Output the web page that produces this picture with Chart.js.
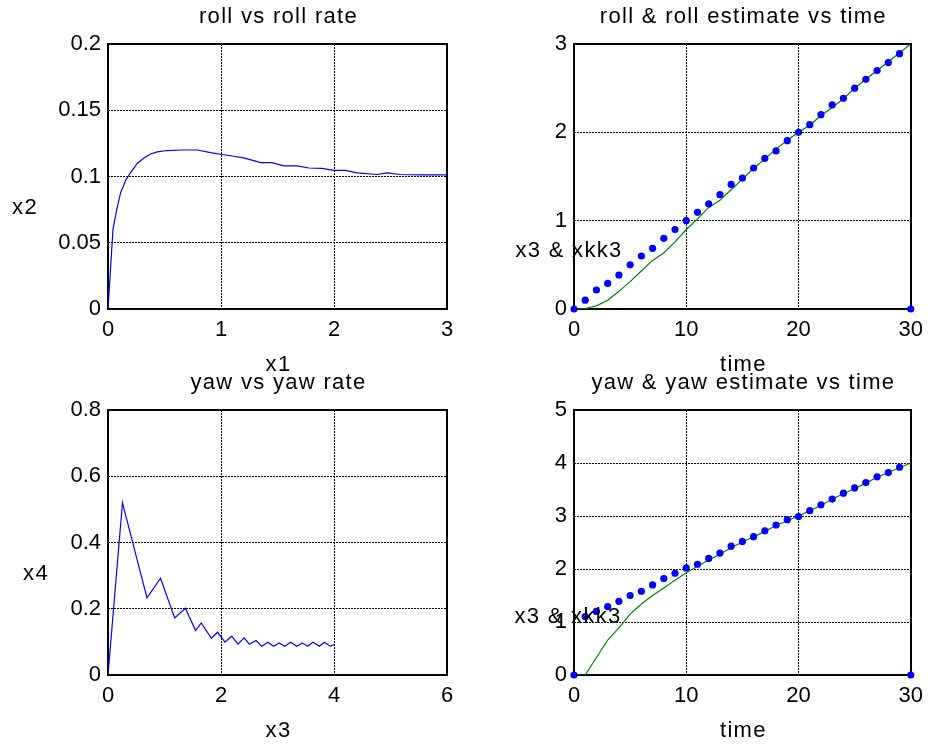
<!DOCTYPE html>
<html>
<head>
<meta charset="utf-8">
<script src="https://cdn.jsdelivr.net/npm/chart.js@4.4.0/dist/chart.umd.min.js"></script>
<style>
  html, body { margin: 0; padding: 0; background: #fff; }
  #wrap { position: relative; width: 931px; height: 749px; overflow: hidden; }
  #wrap canvas { position: absolute; left: 0; top: 0; }
</style>
</head>
<body>
<div id="wrap">
  <canvas id="rollPhase" width="931" height="749"></canvas>
  <canvas id="rollTime" width="931" height="749"></canvas>
  <canvas id="yawPhase" width="931" height="749"></canvas>
  <canvas id="yawTime" width="931" height="749"></canvas>
</div>
<script>
// ---- roll vs roll rate ----
const x1 = [0, 0.044, 0.077, 0.112, 0.156, 0.2, 0.26, 0.318, 0.377, 0.436, 0.525, 0.642, 0.79, 0.908,
  1.01, 1.114, 1.2, 1.29, 1.35, 1.453, 1.556, 1.674, 1.777, 1.895, 1.998, 2.101, 2.205, 2.381, 2.47,
  2.588, 2.765, 3.0];
const x2 = [0, 0.060, 0.075, 0.088, 0.097, 0.103, 0.110, 0.114, 0.117, 0.1186, 0.1196, 0.120, 0.120,
  0.118, 0.1166, 0.1153, 0.114, 0.112, 0.1105, 0.1105, 0.108, 0.108, 0.1064, 0.1061, 0.1046, 0.1046,
  0.1028, 0.1015, 0.1028, 0.1015, 0.1013, 0.1013];

// ---- yaw vs yaw rate ----
const x3 = [0, 0.256, 0.69, 0.93, 1.18, 1.37, 1.55, 1.65, 1.83, 1.94, 2.07, 2.19, 2.30, 2.41, 2.50,
  2.62, 2.72, 2.83, 2.93, 3.03, 3.13, 3.23, 3.34, 3.44, 3.53, 3.63, 3.74, 3.83, 3.93, 4.02];
const x4 = [0, 0.52, 0.233, 0.292, 0.172, 0.2015, 0.134, 0.157, 0.111, 0.129, 0.099, 0.117, 0.093,
  0.112, 0.093, 0.104, 0.087, 0.099, 0.087, 0.097, 0.087, 0.099, 0.087, 0.097, 0.087, 0.099, 0.087,
  0.099, 0.087, 0.093];

// ---- time histories ----
const time = [0, 1, 2, 3, 4, 5, 6, 7, 8, 9, 10, 11, 12, 13, 14, 15, 16, 17, 18, 19, 20, 21, 22, 23,
  24, 25, 26, 27, 28, 29, 30];
const roll = [0, 0.005, 0.035, 0.10, 0.20, 0.31, 0.43, 0.55, 0.635, 0.76, 0.90, 1.02, 1.15, 1.23,
  1.35, 1.47, 1.59, 1.70, 1.81, 1.91, 2.00, 2.08, 2.19, 2.28, 2.38, 2.50, 2.60, 2.70, 2.80, 2.90, 3.00];
const rollEst = [0, 0.10, 0.215, 0.29, 0.385, 0.50, 0.60, 0.687, 0.80, 0.90, 1.00, 1.094, 1.19,
  1.294, 1.41, 1.483, 1.596, 1.706, 1.79, 1.906, 2.00, 2.087, 2.20, 2.31, 2.385, 2.50, 2.60, 2.70,
  2.79, 2.89, 0];
const yaw = [0, 0, 0.33, 0.66, 0.89, 1.15, 1.34, 1.50, 1.64, 1.79, 1.93, 2.05, 2.17, 2.28, 2.40,
  2.51, 2.61, 2.71, 2.82, 2.91, 3.00, 3.10, 3.20, 3.32, 3.42, 3.52, 3.62, 3.73, 3.82, 3.91, 4.00];
const yawEst = [0, 1.10, 1.20, 1.29, 1.39, 1.50, 1.58, 1.70, 1.82, 1.92, 2.02, 2.09, 2.20, 2.30,
  2.43, 2.52, 2.61, 2.72, 2.83, 2.93, 2.99, 3.10, 3.21, 3.32, 3.43, 3.53, 3.63, 3.74, 3.82, 3.92, 0];

// ---- tick values and labels ----
const rollPhaseXTicks = [0, 1, 2, 3];
const rollPhaseXLabels = ['0', '1', '2', '3'];
const rollPhaseYTicks = [0, 0.05, 0.1, 0.15, 0.2];
const rollPhaseYLabels = ['0', '0.05', '0.1', '0.15', '0.2'];
const yawPhaseXTicks = [0, 2, 4, 6];
const yawPhaseXLabels = ['0', '2', '4', '6'];
const yawPhaseYTicks = [0, 0.2, 0.4, 0.6, 0.8];
const yawPhaseYLabels = ['0', '0.2', '0.4', '0.6', '0.8'];
const timeTicks = [0, 10, 20, 30];
const timeLabels = ['0', '10', '20', '30'];
const rollTimeYTicks = [0, 1, 2, 3];
const rollTimeYLabels = ['0', '1', '2', '3'];
const yawTimeYTicks = [0, 1, 2, 3, 4, 5];
const yawTimeYLabels = ['0', '1', '2', '3', '4', '5'];

// ---- drawing setup ----
const FONT_FAMILY = "'Liberation Sans', Arial, Helvetica, sans-serif";
const TICK_SIZE = 22;
const LABEL_SIZE = 22;
const LABEL_SPACING = '1.3px';
const Y_AXIS_W = 60;
const X_AXIS_H = 40;
const PAGE_W = 931, PAGE_H = 749;
const BLUE = '#0000ff';
const GREEN = '#008000';

const pts = (xs, ys) => xs.map((x, i) => ({ x, y: ys[i] }));

function linearAxis(min, max, values, labels, horizontal) {
  return {
    type: 'linear',
    min, max,
    afterBuildTicks: (axis) => { axis.ticks = values.map(v => ({ value: v })); },
    afterFit: (axis) => {
      if (horizontal) axis.height = X_AXIS_H; else axis.width = Y_AXIS_W;
    },
    ticks: {
      callback: (v, i) => labels[i],
      font: { family: FONT_FAMILY, size: TICK_SIZE },
      color: '#000',
      padding: horizontal ? 8 : 7,
      autoSkip: false,
      maxRotation: 0
    },
    grid: { color: '#000', lineWidth: 1, drawTicks: false },
    border: { display: false, dash: [2, 1] }
  };
}

// solid box around each axes, drawn under the data
const axesBox = {
  id: 'axesBox',
  beforeDatasetsDraw(chart) {
    const { ctx, chartArea: a } = chart;
    ctx.save();
    ctx.strokeStyle = '#000';
    ctx.lineWidth = 2;
    ctx.setLineDash([]);
    ctx.strokeRect(Math.round(a.left), Math.round(a.top),
      Math.round(a.right) - Math.round(a.left), Math.round(a.bottom) - Math.round(a.top));
    ctx.restore();
  }
};

// title, x label and horizontal y label of each axes
const axesText = {
  id: 'axesText',
  afterDraw(chart, args, opts) {
    const { ctx, chartArea: a } = chart;
    ctx.save();
    ctx.fillStyle = '#000';
    ctx.font = LABEL_SIZE + 'px ' + FONT_FAMILY;
    ctx.letterSpacing = LABEL_SPACING;
    ctx.textAlign = 'center';
    ctx.textBaseline = 'alphabetic';
    const cx = (a.left + a.right) / 2 + 1;
    ctx.fillText(opts.title, cx, a.top - 21);
    ctx.fillText(opts.xLabel, cx, a.bottom + 62);
    ctx.fillText(opts.yLabel, a.left - opts.yLabelInset, a.top + opts.yLabelDrop);
    ctx.restore();
  }
};

function makeChart(id, box, datasets, scales, text) {
  return new Chart(document.getElementById(id), {
    type: 'scatter',
    data: { datasets },
    options: {
      responsive: false,
      animation: false,
      devicePixelRatio: 1,
      events: [],
      layout: {
        padding: {
          left: box.left - Y_AXIS_W,
          top: box.top,
          right: PAGE_W - box.right,
          bottom: PAGE_H - box.bottom - X_AXIS_H
        }
      },
      scales,
      plugins: {
        legend: { display: false },
        tooltip: { enabled: false },
        title: { display: false },
        axesText: text
      }
    },
    plugins: [axesBox, axesText]
  });
}

const lineSet = (data, color) => ({
  data, showLine: true, borderColor: color, borderWidth: 1.2,
  pointRadius: 0, tension: 0, fill: false
});
const dotSet = (data, color) => ({
  data, showLine: false, pointRadius: 3.6, pointBackgroundColor: color,
  pointBorderWidth: 0, clip: 8
});

const leftCol = { left: 108, right: 447 };
const rightCol = { left: 574, right: 914 };

makeChart('rollPhase', { ...leftCol, top: 44, bottom: 309 },
  [lineSet(pts(x1, x2), BLUE)],
  {
    x: linearAxis(0, 3, rollPhaseXTicks, rollPhaseXLabels, true),
    y: linearAxis(0, 0.2, rollPhaseYTicks, rollPhaseYLabels, false)
  },
  { title: 'roll vs roll rate', xLabel: 'x1', yLabel: 'x2', yLabelInset: 83, yLabelDrop: 170 });

makeChart('rollTime', { ...rightCol, top: 44, bottom: 309 },
  [dotSet(pts(time, rollEst), BLUE), lineSet(pts(time, roll), GREEN)],
  {
    x: linearAxis(0, 30, timeTicks, timeLabels, true),
    y: linearAxis(0, 3, rollTimeYTicks, rollTimeYLabels, false)
  },
  { title: 'roll & roll estimate vs time', xLabel: 'time', yLabel: 'x3 & xkk3', yLabelInset: 5, yLabelDrop: 213 });

makeChart('yawPhase', { ...leftCol, top: 410, bottom: 675 },
  [lineSet(pts(x3, x4), BLUE)],
  {
    x: linearAxis(0, 6, yawPhaseXTicks, yawPhaseXLabels, true),
    y: linearAxis(0, 0.8, yawPhaseYTicks, yawPhaseYLabels, false)
  },
  { title: 'yaw vs yaw rate', xLabel: 'x3', yLabel: 'x4', yLabelInset: 72, yLabelDrop: 170 });

makeChart('yawTime', { ...rightCol, top: 410, bottom: 675 },
  [dotSet(pts(time, yawEst), BLUE), lineSet(pts(time, yaw), GREEN)],
  {
    x: linearAxis(0, 30, timeTicks, timeLabels, true),
    y: linearAxis(0, 5, yawTimeYTicks, yawTimeYLabels, false)
  },
  { title: 'yaw & yaw estimate vs time', xLabel: 'time', yLabel: 'x3 & xkk3', yLabelInset: 6, yLabelDrop: 213 });
</script>
</body>
</html>
